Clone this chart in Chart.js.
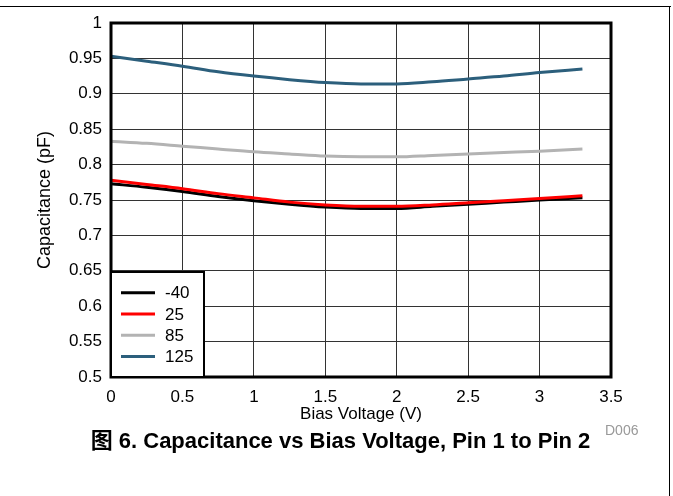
<!DOCTYPE html>
<html><head><meta charset="utf-8">
<script src="https://cdn.jsdelivr.net/npm/chart.js@4/dist/chart.umd.min.js"></script>
<style>
html,body{margin:0;padding:0;background:#fff;}
#wrap{position:relative;width:673px;height:496px;overflow:hidden;font-family:"Liberation Sans",Arial,"Noto Sans CJK SC",sans-serif;}
canvas{position:absolute;left:0;top:0;}
#topline{position:absolute;left:0;top:6px;width:671px;height:1px;background:#000;}
#rightline{position:absolute;left:669px;top:6px;width:1px;height:490px;background:#000;}
#code{position:absolute;left:605px;top:422px;font-size:14px;line-height:16px;color:#999;}
#caption{position:absolute;left:0px;width:681px;top:428px;text-align:center;font-weight:bold;font-size:22px;line-height:25px;white-space:nowrap;color:#000;font-family:"Liberation Sans",Arial,"Noto Sans CJK SC",sans-serif;}
</style></head>
<body>
<div id="wrap">
<canvas id="c" width="673" height="496"></canvas>
<div id="topline"></div><div id="rightline"></div>
<div id="code">D006</div>
<div id="caption">图 6. Capacitance vs Bias Voltage, Pin 1 to Pin 2</div>
</div>
<script>
// ---- data ----
const seriesNames = ['-40', '25', '85', '125'];
const voltage = [0, 0.25, 0.5, 0.75, 1, 1.25, 1.5, 1.75, 2, 2.25, 2.5, 2.75, 3, 3.3];
const capM40 = [0.773, 0.768, 0.762, 0.755, 0.749, 0.744, 0.740, 0.738, 0.738, 0.741, 0.744, 0.747, 0.750, 0.753];
const cap25  = [0.778, 0.772, 0.766, 0.759, 0.753, 0.747, 0.743, 0.741, 0.741, 0.743, 0.746, 0.749, 0.752, 0.756];
const cap85  = [0.833, 0.830, 0.826, 0.822, 0.818, 0.815, 0.812, 0.811, 0.811, 0.813, 0.815, 0.817, 0.819, 0.822];
const cap125 = [0.953, 0.946, 0.939, 0.931, 0.925, 0.920, 0.916, 0.914, 0.914, 0.917, 0.921, 0.925, 0.930, 0.935];
const xTicks = [0, 0.5, 1, 1.5, 2, 2.5, 3, 3.5];
const xTickLabels = ['0', '0.5', '1', '1.5', '2', '2.5', '3', '3.5'];
const yTicks = [0.5, 0.55, 0.6, 0.65, 0.7, 0.75, 0.8, 0.85, 0.9, 0.95, 1];
const yTickLabels = ['0.5', '0.55', '0.6', '0.65', '0.7', '0.75', '0.8', '0.85', '0.9', '0.95', '1'];
const xTitle = 'Bias Voltage (V)';
const yTitle = 'Capacitance (pF)';

// ---- styles ----
const colors = ['#000000', '#ff0000', '#b3b3b3', '#2c5f7c'];
const drawOrder = [1, 0, 2, 3];
const FONT = '"Liberation Sans", Arial, sans-serif';

const seriesValues = [capM40, cap25, cap85, cap125];
const datasets = seriesValues.map((vals, k) => ({
  label: seriesNames[k],
  data: voltage.map((v, i) => ({x: v, y: vals[i]})),
  borderColor: colors[k],
  backgroundColor: colors[k],
  borderWidth: 3,
  pointRadius: 0,
  fill: false,
  cubicInterpolationMode: 'monotone',
  order: drawOrder[k]
}));

const frame = {
  id: 'frame',
  afterDatasetsDraw(chart) {
    const {ctx, chartArea: a} = chart;
    ctx.save();
    ctx.strokeStyle = '#000';
    ctx.lineWidth = 3;
    ctx.strokeRect(a.left, a.top, a.right - a.left, a.bottom - a.top);
    ctx.restore();
  },
  afterDraw(chart) {
    const {ctx, chartArea: a} = chart;
    const bw = 93, bh = 105;
    const x0 = a.left, y0 = a.bottom - bh;
    ctx.save();
    ctx.fillStyle = '#fff';
    ctx.fillRect(x0, y0, bw, bh);
    ctx.strokeStyle = '#000';
    ctx.lineWidth = 2;
    ctx.strokeRect(x0, y0, bw, bh);
    ctx.font = '17px ' + FONT;
    ctx.textBaseline = 'middle';
    ctx.textAlign = 'left';
    chart.data.datasets.forEach((ds, i) => {
      const y = y0 + 20.8 + i * 21.2;
      ctx.strokeStyle = ds.borderColor;
      ctx.lineWidth = 3;
      ctx.beginPath();
      ctx.moveTo(x0 + 10, y);
      ctx.lineTo(x0 + 44, y);
      ctx.stroke();
      ctx.fillStyle = '#000';
      ctx.fillText(ds.label, x0 + 54, y + 1);
    });
    ctx.restore();
  }
};

new Chart(document.getElementById('c'), {
  type: 'line',
  data: {datasets},
  options: {
    responsive: false,
    animation: false,
    devicePixelRatio: 1,
    layout: {padding: {top: 23, right: 62, bottom: 71, left: 0}},
    plugins: {legend: {display: false}, tooltip: {enabled: false}},
    scales: {
      x: {
        type: 'linear', min: 0, max: 3.5,
        afterBuildTicks: s => { s.ticks = xTicks.map(v => ({value: v})); },
        afterFit: s => { s.height = 48; s.paddingLeft = 0; s.paddingRight = 0; },
        ticks: {
          callback: (v, i) => xTickLabels[i],
          color: '#000', padding: 10, maxRotation: 0, autoSkip: false,
          font: {family: FONT, size: 17}
        },
        grid: {color: '#333333', lineWidth: 1, drawTicks: false},
        border: {display: false},
        title: {display: true, text: xTitle, color: '#000', font: {family: FONT, size: 17}, padding: {top: 0, bottom: 0}}
      },
      y: {
        type: 'linear', min: 0.5, max: 1,
        afterBuildTicks: s => { s.ticks = yTicks.map(v => ({value: v})); },
        afterFit: s => { s.width = 111; s.paddingTop = 0; s.paddingBottom = 0; },
        ticks: {
          callback: (v, i) => yTickLabels[i],
          color: '#000', padding: 9, autoSkip: false,
          font: {family: FONT, size: 17}
        },
        grid: {color: '#333333', lineWidth: 1, drawTicks: false},
        border: {display: false},
        title: {display: true, text: yTitle, color: '#000', font: {family: FONT, size: 18}, padding: {top: 34, bottom: 0}}
      }
    }
  },
  plugins: [frame]
});
</script>
</body></html>
